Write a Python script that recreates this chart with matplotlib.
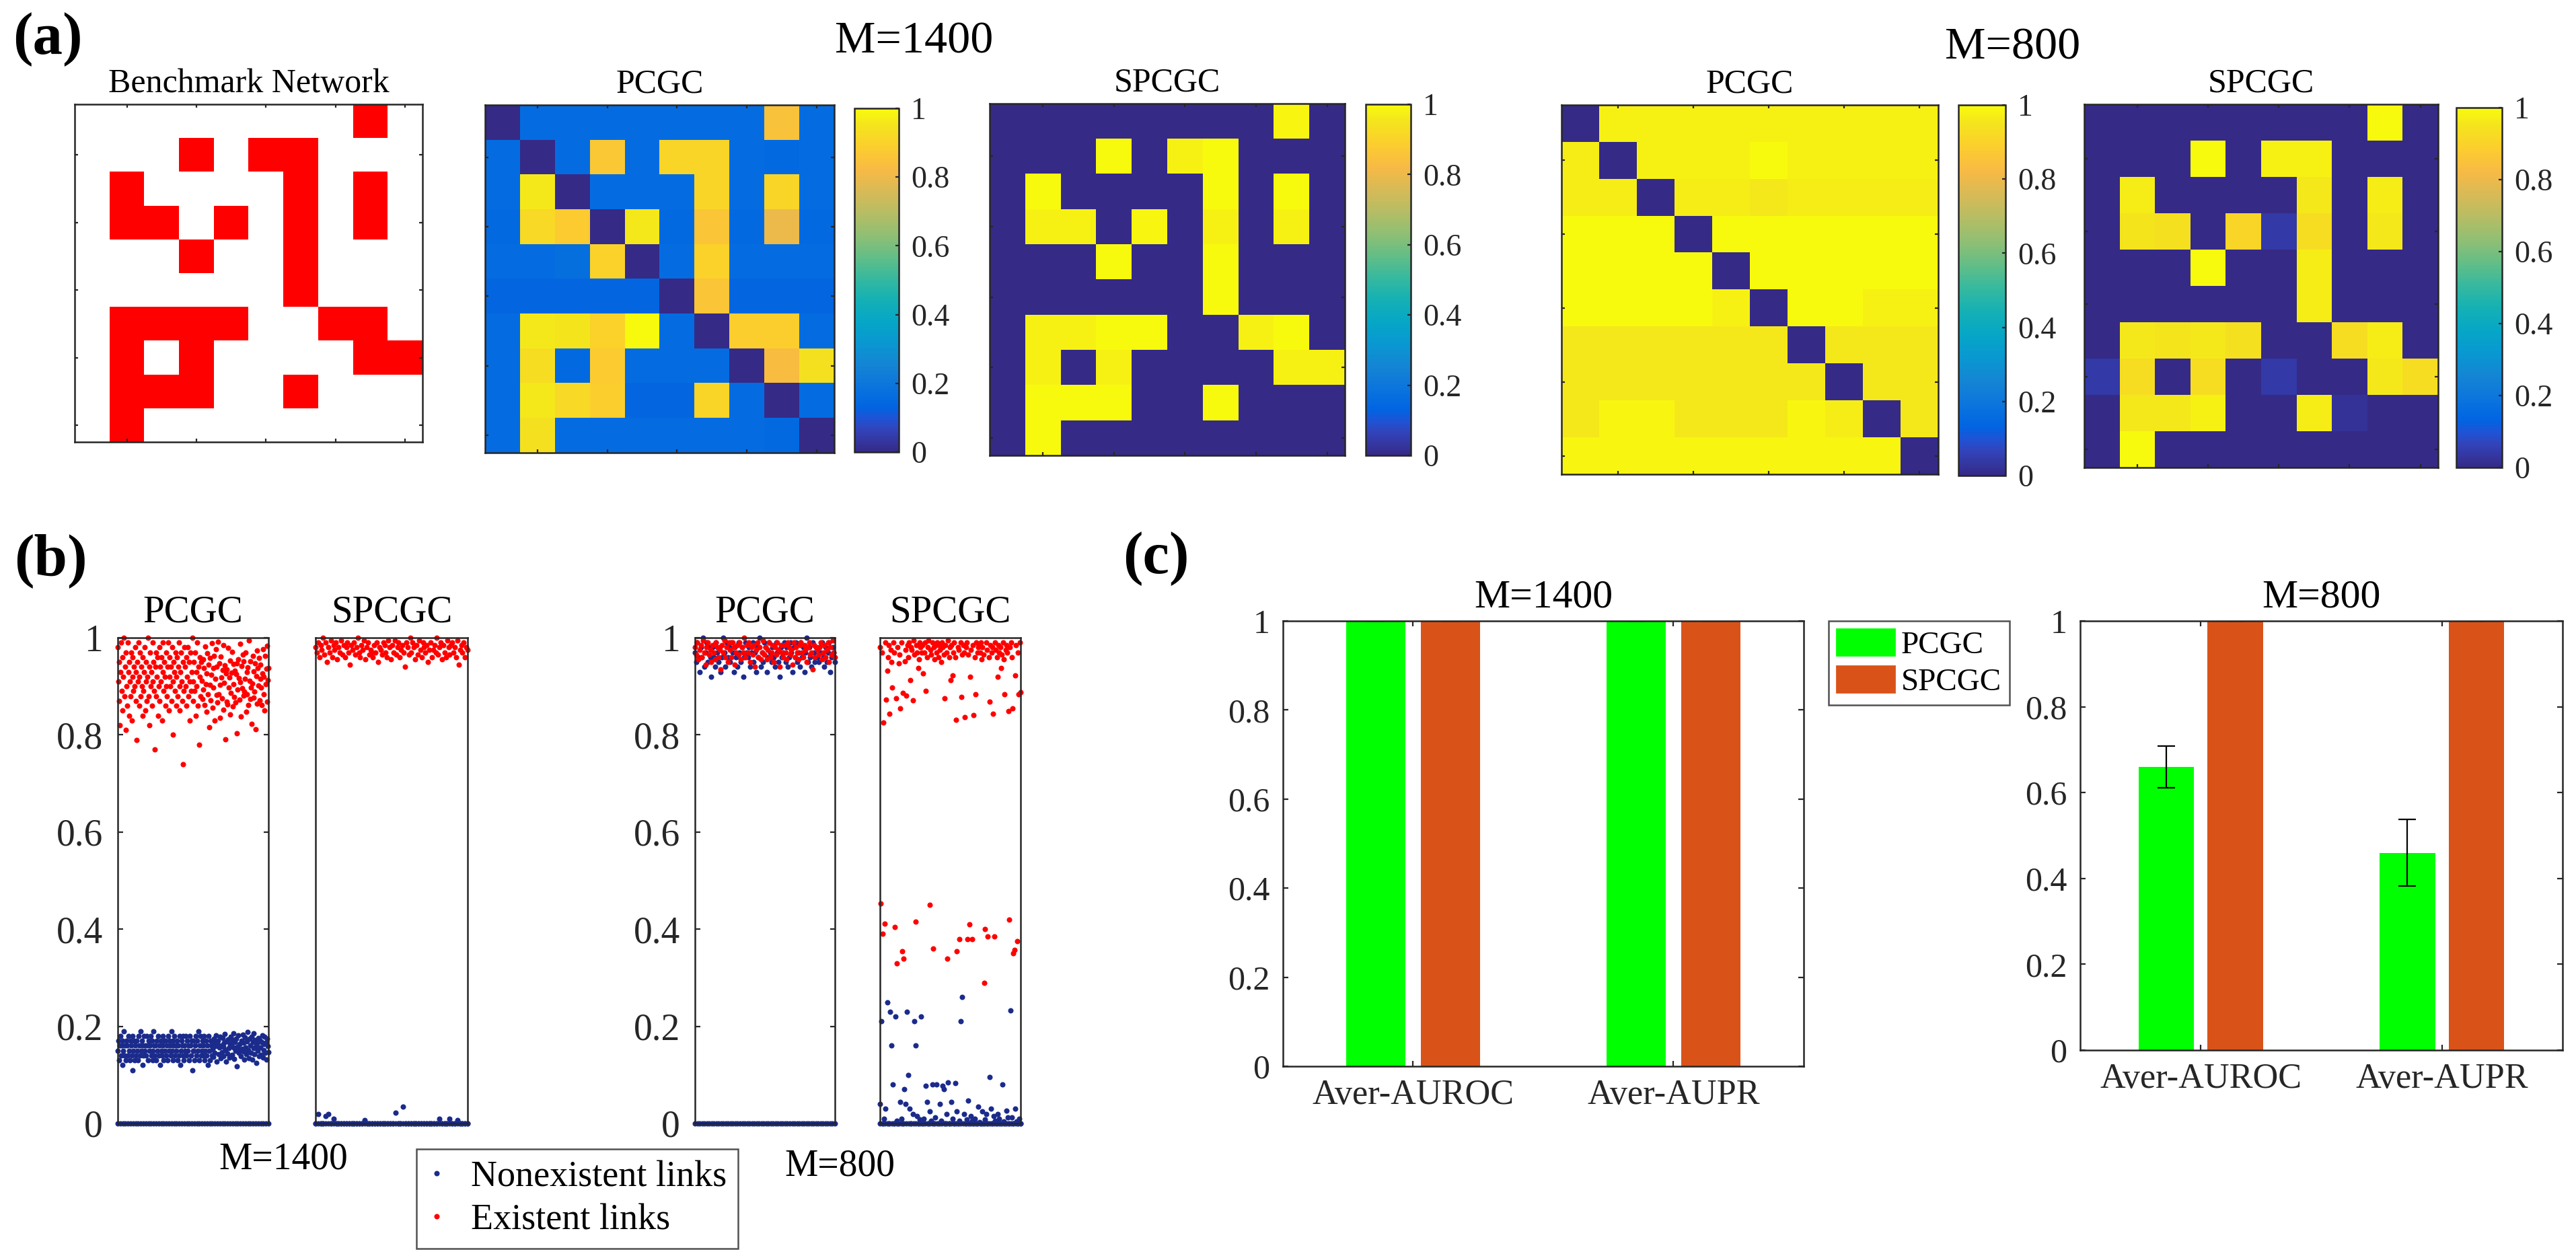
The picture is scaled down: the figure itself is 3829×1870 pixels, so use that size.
"""
Benchmark network vs PCGC / SPCGC reconstructions, link scores and AUROC/AUPR bars
"""
import numpy as np
import matplotlib
matplotlib.use('Agg')
import matplotlib.pyplot as plt
from matplotlib.colors import LinearSegmentedColormap, ListedColormap
from matplotlib.lines import Line2D
from matplotlib.patches import Patch

plt.rcParams['font.family'] = ['Liberation Serif', 'DejaVu Serif']

# ============= DATA =============
benchmark = [
    [0, 0, 0, 0, 0, 0, 0, 0, 1, 0],
    [0, 0, 0, 1, 0, 1, 1, 0, 0, 0],
    [0, 1, 0, 0, 0, 0, 1, 0, 1, 0],
    [0, 1, 1, 0, 1, 0, 1, 0, 1, 0],
    [0, 0, 0, 1, 0, 0, 1, 0, 0, 0],
    [0, 0, 0, 0, 0, 0, 1, 0, 0, 0],
    [0, 1, 1, 1, 1, 0, 0, 1, 1, 0],
    [0, 1, 0, 1, 0, 0, 0, 0, 1, 1],
    [0, 1, 1, 1, 0, 0, 1, 0, 0, 0],
    [0, 1, 0, 0, 0, 0, 0, 0, 0, 0],
]

pcgc_1400 = [
    [0.00, 0.16, 0.16, 0.16, 0.16, 0.16, 0.16, 0.16, 0.85, 0.16],
    [0.16, 0.00, 0.16, 0.87, 0.16, 0.91, 0.91, 0.16, 0.15, 0.16],
    [0.16, 0.96, 0.00, 0.16, 0.16, 0.16, 0.91, 0.16, 0.91, 0.16],
    [0.15, 0.92, 0.88, 0.00, 0.96, 0.15, 0.86, 0.15, 0.80, 0.15],
    [0.16, 0.16, 0.17, 0.90, 0.00, 0.16, 0.90, 0.16, 0.16, 0.16],
    [0.14, 0.14, 0.14, 0.14, 0.14, 0.00, 0.86, 0.14, 0.14, 0.14],
    [0.16, 0.96, 0.95, 0.90, 1.00, 0.16, 0.00, 0.89, 0.89, 0.16],
    [0.16, 0.93, 0.15, 0.88, 0.16, 0.16, 0.16, 0.00, 0.83, 0.94],
    [0.16, 0.96, 0.92, 0.89, 0.14, 0.14, 0.91, 0.16, 0.00, 0.16],
    [0.16, 0.94, 0.16, 0.16, 0.16, 0.16, 0.16, 0.16, 0.15, 0.00],
]

spcgc_1400 = [
    [0, 0, 0, 0, 0, 0, 0, 0, 0.99, 0],
    [0, 0, 0, 1.00, 0, 0.98, 1.00, 0, 0, 0],
    [0, 1.00, 0, 0, 0, 0, 1.00, 0, 1.00, 0],
    [0, 0.98, 0.98, 0, 0.99, 0, 0.98, 0, 0.98, 0],
    [0, 0, 0, 1.00, 0, 0, 1.00, 0, 0, 0],
    [0, 0, 0, 0, 0, 0, 1.00, 0, 0, 0],
    [0, 0.98, 0.98, 1.00, 1.00, 0, 0, 0.98, 1.00, 0],
    [0, 0.98, 0, 0.98, 0, 0, 0, 0, 0.98, 0.98],
    [0, 1.00, 1.00, 1.00, 0, 0, 1.00, 0, 0, 0],
    [0, 1.00, 0, 0, 0, 0, 0, 0, 0, 0],
]

pcgc_800 = [
    [0.00, 0.98, 0.98, 0.98, 0.98, 0.98, 0.98, 0.98, 0.98, 0.98],
    [0.97, 0.00, 0.98, 0.98, 0.98, 1.00, 0.98, 0.98, 0.98, 0.98],
    [0.97, 0.97, 0.00, 0.97, 0.97, 0.96, 0.97, 0.97, 0.97, 0.97],
    [1.00, 1.00, 1.00, 0.00, 1.00, 1.00, 1.00, 1.00, 1.00, 1.00],
    [1.00, 1.00, 1.00, 1.00, 0.00, 1.00, 1.00, 1.00, 1.00, 1.00],
    [1.00, 1.00, 1.00, 1.00, 0.98, 0.00, 1.00, 1.00, 0.98, 0.98],
    [0.96, 0.96, 0.96, 0.96, 0.96, 0.96, 0.00, 0.96, 0.96, 0.96],
    [0.96, 0.96, 0.96, 0.96, 0.96, 0.96, 0.96, 0.00, 0.96, 0.96],
    [0.96, 0.99, 0.99, 0.96, 0.96, 0.96, 0.99, 0.97, 0.00, 0.96],
    [0.99, 0.99, 0.99, 0.99, 0.99, 0.99, 0.99, 0.99, 0.99, 0.00],
]

spcgc_800 = [
    [0, 0, 0, 0, 0, 0, 0, 0, 1.00, 0],
    [0, 0, 0, 1.00, 0, 0.98, 0.98, 0, 0, 0],
    [0, 0.97, 0, 0, 0, 0, 0.96, 0, 0.97, 0],
    [0, 0.95, 0.94, 0, 0.91, 0.04, 0.93, 0, 0.96, 0],
    [0, 0, 0, 1.00, 0, 0, 0.97, 0, 0, 0],
    [0, 0, 0, 0, 0, 0, 0.97, 0, 0, 0],
    [0, 0.96, 0.95, 0.96, 0.94, 0, 0, 0.93, 0.97, 0],
    [0.04, 0.93, 0, 0.93, 0, 0.04, 0, 0, 0.96, 0.93],
    [0, 0.96, 0.96, 0.98, 0, 0, 0.97, 0.02, 0, 0],
    [0, 1.00, 0, 0, 0, 0, 0, 0, 0, 0],
]

# link scores (b): self links (diagonal) are always 0
diag_zero = [0.0] * 60

pcgc1400_exist = [
    0.98, 0.91, 0.87, 0.95, 0.82, 0.93, 0.99, 0.89, 0.96, 0.85, 0.92, 1.00, 0.88, 0.94, 0.81,
    0.97, 0.90, 0.86, 0.99, 0.93, 0.84, 0.95, 0.91, 0.88, 0.97, 0.83, 0.92, 0.96, 0.89, 0.94,
    0.90, 0.98, 0.87, 0.93, 0.79, 0.95, 0.91, 0.99, 0.86, 0.92, 0.97, 0.88, 0.94, 0.90, 0.84,
    0.96, 0.89, 0.93, 0.98, 0.85, 0.91, 0.95, 0.87, 0.92, 1.00, 0.88, 0.94, 0.82, 0.97, 0.90,
    0.93, 0.86, 0.99, 0.91, 0.95, 0.89, 0.77, 0.94, 0.97, 0.88, 0.92, 0.96, 0.84, 0.90, 0.98,
    0.87, 0.94, 0.91, 0.96, 0.83, 0.93, 0.99, 0.89, 0.95, 0.92, 0.86, 0.97, 0.90, 0.88, 0.94,
    0.99, 0.85, 0.92, 0.96, 0.90, 0.94, 0.87, 0.98, 0.91, 0.80, 0.95, 0.93, 0.89, 0.97, 0.86,
    0.92, 0.96, 0.88, 0.94, 0.99, 0.90, 0.85, 0.93, 0.97, 0.91, 0.87, 0.95, 0.74, 0.89, 0.98,
    0.94, 0.90, 0.96, 0.86, 0.92, 0.98, 0.88, 0.95, 0.83, 0.91, 0.97, 0.89, 0.93, 1.00, 0.87,
    0.91, 0.95, 0.89, 0.97, 0.84, 0.93, 0.90, 0.99, 0.86, 0.94, 0.78, 0.92, 0.96, 0.88, 0.95,
    0.912, 0.874, 0.956, 0.893, 0.938, 0.861, 0.982, 0.905, 0.847, 0.927, 0.968, 0.884, 0.945, 0.816, 0.903,
    0.958, 0.871, 0.924, 0.989, 0.856, 0.937, 0.898, 0.963, 0.829, 0.915, 0.976, 0.882, 0.941, 0.867, 0.992,
    0.884, 0.947, 0.903, 0.835, 0.961, 0.918, 0.876, 0.934, 0.985, 0.852, 0.907, 0.943, 0.791, 0.926, 0.868,
    0.935, 0.863, 0.979, 0.897, 0.918, 0.842, 0.953, 0.886, 0.928, 0.971, 0.859, 0.904, 0.946, 0.878, 0.932,
    0.867, 0.925, 0.948, 0.804, 0.893, 0.956, 0.917, 0.873, 0.987, 0.908, 0.838, 0.942, 0.896, 0.965, 0.881,
    0.951, 0.889, 0.916, 0.969, 0.847, 0.929, 0.884, 0.939, 0.862, 0.995, 0.911, 0.874, 0.952, 0.898, 0.823,
    0.906, 0.963, 0.877, 0.931, 0.889, 0.947, 0.812, 0.921, 0.973, 0.864, 0.938, 0.902, 0.958, 0.871, 0.915,
    0.944, 0.898, 0.862, 0.927, 0.976, 0.883, 0.919, 0.851, 0.962, 0.905, 0.936, 0.869, 0.984, 0.913, 0.937,
]
pcgc1400_none = [
    0.15, 0.17, 0.13, 0.16, 0.18, 0.14, 0.16, 0.12, 0.17, 0.15, 0.19, 0.14, 0.16, 0.13, 0.17,
    0.16, 0.14, 0.18, 0.15, 0.13, 0.17, 0.16, 0.14, 0.11, 0.18, 0.15, 0.17, 0.13, 0.16, 0.14,
    0.17, 0.15, 0.13, 0.18, 0.16, 0.14, 0.19, 0.15, 0.17, 0.12, 0.16, 0.14, 0.18, 0.15, 0.16,
    0.14, 0.18, 0.16, 0.13, 0.17, 0.15, 0.16, 0.18, 0.14, 0.17, 0.13, 0.15, 0.19, 0.16, 0.14,
    0.16, 0.13, 0.17, 0.15, 0.18, 0.14, 0.16, 0.12, 0.17, 0.15, 0.14, 0.18, 0.16, 0.13, 0.17,
    0.15, 0.17, 0.14, 0.16, 0.13, 0.18, 0.15, 0.17, 0.16, 0.14, 0.19, 0.15, 0.13, 0.17, 0.16,
    0.18, 0.14, 0.16, 0.15, 0.17, 0.13, 0.16, 0.14, 0.18, 0.12, 0.15, 0.17, 0.16, 0.14, 0.18,
    0.13, 0.16, 0.15, 0.18, 0.14, 0.17, 0.15, 0.16, 0.13, 0.18, 0.16, 0.14, 0.17, 0.11, 0.15,
    0.17, 0.15, 0.13, 0.16, 0.18, 0.14, 0.17, 0.15, 0.19, 0.13, 0.16, 0.18, 0.14, 0.15, 0.17,
    0.14, 0.16, 0.18, 0.13, 0.15, 0.17, 0.14, 0.16, 0.12, 0.18, 0.15, 0.13, 0.17, 0.16, 0.14,
    0.152, 0.168, 0.137, 0.174, 0.146, 0.159, 0.182, 0.128, 0.163, 0.171, 0.143, 0.156, 0.178, 0.134, 0.161,
    0.147, 0.176, 0.158, 0.139, 0.166, 0.184, 0.151, 0.127, 0.169, 0.144, 0.173, 0.155, 0.136, 0.162, 0.179,
    0.165, 0.141, 0.172, 0.157, 0.186, 0.133, 0.167, 0.149, 0.175, 0.118, 0.158, 0.181, 0.145, 0.164, 0.153,
    0.138, 0.171, 0.154, 0.183, 0.148, 0.166, 0.131, 0.177, 0.156, 0.142, 0.169, 0.188, 0.151, 0.135, 0.174,
    0.161, 0.146, 0.179, 0.132, 0.167, 0.155, 0.185, 0.143, 0.172, 0.158, 0.124, 0.165, 0.149, 0.176, 0.139,
    0.172, 0.157, 0.141, 0.168, 0.182, 0.136, 0.163, 0.151, 0.178, 0.145, 0.166, 0.131, 0.174, 0.159, 0.147,
]

spcgc1400_exist = [
    0.98, 0.97, 0.99, 0.96, 0.985, 0.975, 1.00, 0.965, 0.99, 0.95, 0.98, 0.97, 0.995, 0.96, 0.985,
    0.975, 0.99, 0.955, 0.98, 0.97, 0.995, 0.965, 0.985, 0.96, 0.98, 0.99, 0.97, 0.945, 0.985, 0.975,
    0.99, 0.965, 0.98, 1.00, 0.97, 0.96, 0.985, 0.975, 0.995, 0.955, 0.98, 0.99, 0.965, 0.975, 0.97,
    0.96, 0.985, 0.97, 0.99, 0.95, 0.98, 0.975, 0.965, 0.99, 0.985, 0.97, 0.96, 0.995, 0.98, 0.955,
    0.985, 0.97, 0.995, 0.965, 0.98, 0.99, 0.96, 0.975, 0.985, 0.97, 0.94, 0.99, 0.98, 0.965, 1.00,
    0.97, 0.99, 0.98, 0.955, 0.985, 0.965, 0.995, 0.975, 0.96, 0.99, 0.98, 0.97, 0.985, 0.95, 0.975,
    0.99, 0.96, 0.975, 0.985, 0.97, 1.00, 0.965, 0.98, 0.99, 0.955, 0.985, 0.97, 0.96, 0.995, 0.98,
    0.965, 0.985, 0.99, 0.97, 0.98, 0.96, 0.995, 0.945, 0.975, 0.985, 0.97, 0.99, 0.96, 0.98, 0.975,
]
spcgc1400_none = [
    0, 0.02, 0, 0, 0.015, 0.02, 0, 0.01, 0, 0, 0, 0, 0, 0, 0,
    0, 0, 0, 0, 0.007, 0, 0, 0, 0, 0, 0, 0, 0, 0, 0,
    0, 0.022, 0, 0, 0.035, 0, 0, 0, 0, 0, 0, 0, 0, 0, 0,
    0, 0, 0, 0.01, 0, 0, 0, 0.01, 0, 0, 0.007, 0, 0, 0, 0,
]

pcgc800_none = [
    0.97, 0.95, 0.99, 0.96, 0.93, 0.98, 0.96, 1.00, 0.94, 0.97, 0.99, 0.95, 0.98, 0.96, 0.92,
    0.98, 0.96, 0.94, 0.99, 0.97, 0.95, 0.98, 0.93, 0.96, 1.00, 0.97, 0.94, 0.99, 0.96, 0.98,
    0.95, 0.99, 0.97, 0.93, 0.98, 0.96, 0.94, 0.99, 0.97, 0.95, 0.98, 0.92, 0.96, 0.99, 0.97,
    0.96, 0.98, 0.94, 0.97, 0.99, 0.95, 0.97, 0.93, 0.98, 0.96, 1.00, 0.94, 0.97, 0.95, 0.99,
    0.98, 0.93, 0.96, 0.99, 0.97, 0.95, 0.98, 0.96, 0.94, 0.99, 0.97, 0.95, 0.92, 0.98, 0.96,
    0.97, 0.99, 0.95, 0.98, 0.94, 0.96, 0.99, 0.97, 0.93, 0.98, 0.96, 0.99, 0.95, 0.97, 0.94,
    0.99, 0.96, 0.98, 0.93, 0.97, 1.00, 0.95, 0.98, 0.96, 0.94, 0.99, 0.97, 0.95, 0.98, 0.96,
    0.95, 0.98, 0.97, 0.99, 0.96, 0.94, 0.98, 0.95, 0.97, 0.99, 0.93, 0.96, 0.98, 0.97, 0.95,
]
pcgc800_exist = [
    0.98, 0.965, 0.99, 0.955, 0.975, 0.985, 0.96, 0.995, 0.97, 0.945, 0.98, 0.99, 0.965, 0.975, 0.95,
    0.985, 0.97, 0.955, 0.99, 0.98, 0.96, 0.975, 0.935, 0.985, 0.97, 0.995, 0.96, 0.98, 0.95, 0.99,
    0.975, 0.96, 0.99, 0.98, 0.945, 0.97, 0.985, 0.965, 0.99, 0.955, 0.98, 0.97, 1.00, 0.96, 0.985,
    0.97, 0.99, 0.95, 0.98, 0.965, 0.985, 0.94, 0.975, 0.99, 0.96, 0.98, 0.955, 0.97, 0.995, 0.965,
    0.98, 0.955, 0.975, 0.99, 0.96, 0.97, 0.985, 0.95, 0.98, 0.965, 0.99, 0.975, 0.94, 0.985, 0.97,
    0.96, 0.985, 0.97, 0.955, 0.99, 0.98, 0.965, 0.975, 0.945, 0.99, 0.96, 0.98, 0.97, 0.955, 0.985,
    0.99, 0.97, 0.96, 0.985, 0.975, 0.95, 0.98, 0.99, 0.965, 0.97, 0.935, 0.985, 0.96, 0.98, 0.975,
    0.965, 0.98, 0.99, 0.955, 0.97, 0.985, 0.96, 0.975, 0.99, 0.95, 0.98, 0.965, 0.995, 0.97, 0.96,
]

spcgc800_exist = [
    0.98, 0.453, 0.97, 0.39, 0.826, 0.412, 0.99, 0.873, 0.932, 0.96, 0.985, 0.844, 0.975, 0.95, 0.898, 0.99,
    0.97, 0.405, 0.875, 0.33, 0.98, 0.947, 0.965, 0.854, 0.99, 0.355, 0.886, 0.34, 0.952, 0.975, 0.881, 0.985,
    0.96, 0.99, 0.913, 0.98, 0.975, 0.871, 0.995, 0.965, 0.415, 0.985, 0.97, 0.937, 0.955, 0.99, 0.98, 0.97,
    0.985, 0.927, 0.97, 0.99, 0.891, 0.96, 0.98, 0.995, 0.45, 0.975, 0.965, 0.99, 0.36, 0.98, 0.955, 0.985,
    0.97, 0.99, 0.96, 0.985, 0.975, 0.95, 0.99, 0.98, 0.965, 0.876, 0.985, 0.97, 0.34, 0.995, 0.96, 0.98,
    0.913, 0.985, 0.923, 0.97, 0.99, 0.96, 0.831, 0.355, 0.98, 0.975, 0.38, 0.99, 0.878, 0.965, 0.985, 0.97,
    0.837, 0.98, 0.99, 0.38, 0.965, 0.41, 0.92, 0.975, 0.38, 0.985, 0.841, 0.96, 0.883, 0.99, 0.97, 0.98,
    0.985, 0.97, 0.99, 0.955, 0.98, 0.965, 0.29, 0.40, 0.99, 0.975, 0.385, 0.96, 0.868, 0.985, 0.97, 0.98,
    0.844, 0.385, 0.99, 0.975, 0.96, 0.92, 0.985, 0.97, 0.98, 0.937, 0.965, 0.99, 0.955, 0.883, 0.975, 0.985,
    0.97, 0.849, 0.42, 0.98, 0.99, 0.96, 0.854, 0.35, 0.357, 0.923, 0.985, 0.376, 0.97, 0.883, 0.99, 0.888,
]
spcgc800_none = [
    0.04, 0.21, 0, 0.01, 0.03, 0.25, 0, 0.23, 0.16, 0.08,
    0, 0.22, 0.005, 0, 0.045, 0.01, 0, 0.07, 0.04, 0.23,
    0.1, 0.03, 0, 0.02, 0.21, 0.16, 0.015, 0, 0.008, 0.22,
    0, 0.01, 0.078, 0.045, 0, 0.025, 0.005, 0.08, 0, 0.012,
    0.08, 0, 0.04, 0.006, 0.078, 0.07, 0, 0.02, 0.085, 0,
    0.045, 0.01, 0, 0.083, 0.025, 0, 0.005, 0.21, 0.26, 0.02,
    0, 0.008, 0.047, 0, 0.015, 0.005, 0, 0.01, 0, 0.035,
    0.003, 0, 0.025, 0, 0.008, 0.02, 0, 0.095, 0.03, 0,
    0.015, 0.006, 0, 0.02, 0.01, 0, 0.08, 0.004, 0, 0.026,
    0.012, 0, 0.233, 0.013, 0, 0.03, 0.004, 0, 0.01, 0,
]

# bars (c)
metrics = ['Aver-AUROC', 'Aver-AUPR']
bar_pcgc_1400 = [1.0, 1.0]
bar_pcgc_1400_err = [0.0, 0.0]
bar_spcgc_1400 = [1.0, 1.0]
bar_spcgc_1400_err = [0.0, 0.0]
bar_pcgc_800 = [0.66, 0.46]
bar_pcgc_800_err = [0.048, 0.078]
bar_spcgc_800 = [1.0, 1.0]
bar_spcgc_800_err = [0.0, 0.0]

# ============= STYLE =============
W, H = 3830, 1870
DPI = 200
DARK = '#262626'
BLUE = '#1b2b8c'
RED = '#ff0000'
GREEN = '#00ff00'
ORANGE = '#d95319'
SERIF = ['Liberation Serif', 'DejaVu Serif']

# MATLAB parula (sampled)
parula_pts = [
    (0.2081, 0.1663, 0.5292), (0.1959, 0.2645, 0.7279), (0.1253, 0.3242, 0.8303),
    (0.0117, 0.3875, 0.8820), (0.0165, 0.4266, 0.8786), (0.0498, 0.4586, 0.8641),
    (0.0793, 0.5200, 0.8312), (0.0343, 0.5966, 0.8199), (0.0228, 0.6535, 0.7768),
    (0.0843, 0.6928, 0.7062), (0.2178, 0.7250, 0.6193), (0.3953, 0.7459, 0.5244),
    (0.5709, 0.7485, 0.4494), (0.7184, 0.7411, 0.3905), (0.8507, 0.7299, 0.3360),
    (0.9739, 0.7314, 0.2666), (0.9880, 0.8066, 0.1794), (0.9589, 0.8949, 0.1132),
    (0.9763, 0.9831, 0.0538),
]
parula_idx = [0, 4, 6, 8, 10, 12, 16, 20, 24, 28, 32, 36, 40, 44, 48, 52, 56, 60, 63]
parula = LinearSegmentedColormap.from_list(
    'parula', [(i / 63, c) for i, c in zip(parula_idx, parula_pts)])

fig = plt.figure(figsize=(W / DPI, H / DPI), dpi=DPI)


def box(x0, y0, x1, y1):
    """pixel box (left, top, right, bottom) -> figure rect"""
    return [x0 / W, 1 - y1 / H, (x1 - x0) / W, (y1 - y0) / H]


def style_spines(ax):
    for s in ax.spines.values():
        s.set_linewidth(0.9)
        s.set_color(DARK)


def serif_ticks(ax):
    for t in ax.get_xticklabels() + ax.get_yticklabels():
        t.set_family(SERIF)


# ============= (a) MATRICES =============
def draw_matrix(rect, mat, title, cmap):
    ax = fig.add_axes(box(*rect))
    im = ax.imshow(np.array(mat), cmap=cmap, vmin=0, vmax=1, aspect='auto',
                   interpolation='nearest')
    ax.set_xticks([1, 3, 5, 7, 9])
    ax.set_yticks([1, 3, 5, 7, 9])
    ax.set_xticklabels([])
    ax.set_yticklabels([])
    ax.tick_params(direction='in', length=1.8, width=0.8, color=DARK,
                   top=True, right=True)
    style_spines(ax)
    ax.set_title(title, fontsize=18, pad=6.5)
    return im


def draw_cbar(rect, im):
    cax = fig.add_axes(box(*rect))
    cb = fig.colorbar(im, cax=cax, ticks=[0, 0.2, 0.4, 0.6, 0.8, 1])
    cb.ax.set_yticklabels(['0', '0.2', '0.4', '0.6', '0.8', '1'])
    cax.tick_params(direction='in', length=1.8, width=0.8, labelsize=16.5,
                    pad=6.5, colors=DARK)
    serif_ticks(cax)
    cb.outline.set_linewidth(0.9)
    cb.outline.set_edgecolor(DARK)


draw_matrix((111, 155, 628, 657), benchmark, 'Benchmark Network',
            ListedColormap(['white', RED]))
im = draw_matrix((721, 156, 1240, 673), pcgc_1400, 'PCGC', parula)
draw_cbar((1270, 161, 1336, 672), im)
im = draw_matrix((1471, 154, 1999, 677), spcgc_1400, 'SPCGC', parula)
draw_cbar((2030, 155, 2097, 677), im)
im = draw_matrix((2321, 156, 2881, 705), pcgc_800, 'PCGC', parula)
draw_cbar((2911, 156, 2981, 707), im)
im = draw_matrix((3098, 155, 3624, 695), spcgc_800, 'SPCGC', parula)
draw_cbar((3651, 160, 3719, 695), im)

fig.text(1359 / W, 1 - 62 / H, 'M=1400', fontsize=24.5, ha='center', va='center')
fig.text(2992 / W, 1 - 71 / H, 'M=800', fontsize=24.5, ha='center', va='center')


# ============= (b) LINK SCORES =============
def draw_scores(rect, none_vals, exist_vals, title, labels):
    ax = fig.add_axes(box(*rect))
    for vals, col in [(diag_zero, BLUE), (none_vals, BLUE), (exist_vals, RED)]:
        x = np.linspace(0, 1, len(vals))
        ax.plot(x, vals, 'o', ms=2.9, mew=0, color=col, clip_on=False)
    ax.set_xlim(0, 1)
    ax.set_ylim(0, 1)
    ax.set_xticks([])
    if labels:
        ax.set_yticks([0, 0.2, 0.4, 0.6, 0.8, 1])
        ax.set_yticklabels(['0', '0.2', '0.4', '0.6', '0.8', '1'])
        ax.tick_params(direction='in', length=2.7, width=0.8, right=True,
                       labelsize=20, pad=8, colors=DARK)
        serif_ticks(ax)
    else:
        ax.set_yticks([])
    style_spines(ax)
    ax.set_title(title, fontsize=20.5, pad=8.5)


draw_scores((175, 948, 399, 1670), pcgc1400_none, pcgc1400_exist, 'PCGC', True)
draw_scores((469, 948, 695, 1670), spcgc1400_none, spcgc1400_exist, 'SPCGC', False)
draw_scores((1033, 948, 1241, 1670), pcgc800_none, pcgc800_exist, 'PCGC', True)
draw_scores((1308, 948, 1517, 1670), spcgc800_none, spcgc800_exist, 'SPCGC', False)

fig.text(421 / W, 1 - 1723 / H, 'M=1400', fontsize=20, ha='center', va='center')
fig.text(1248 / W, 1 - 1733 / H, 'M=800', fontsize=20, ha='center', va='center')

score_handles = [
    Line2D([], [], marker='o', ls='', ms=2.9, mew=0, color=BLUE, label='Nonexistent links'),
    Line2D([], [], marker='o', ls='', ms=2.9, mew=0, color=RED, label='Existent links'),
]
leg = fig.legend(handles=score_handles, loc='center',
                 bbox_to_anchor=(858 / W, 1 - 1782 / H), fontsize=19.5,
                 frameon=True, fancybox=False, edgecolor=DARK, borderpad=0.3,
                 handlelength=0.5, handletextpad=0.7, labelspacing=0.25)
leg.get_frame().set_linewidth(0.9)


# ============= (c) BARS =============
def draw_bars(rect, a, a_err, b, b_err, title):
    ax = fig.add_axes(box(*rect))
    xs = np.arange(1, len(metrics) + 1)
    w, off = 0.229, 0.143
    ekw = dict(ecolor='black', elinewidth=0.8, capsize=4.7, capthick=0.8)
    ax.bar(xs - off, a, w, color=GREEN, yerr=a_err, error_kw=ekw)
    ax.bar(xs + off, b, w, color=ORANGE, yerr=b_err, error_kw=ekw)
    ax.set_xlim(0.5, 2.5)
    ax.set_ylim(0, 1)
    ax.set_xticks(xs)
    ax.set_xticklabels(metrics, fontsize=18.8)
    ax.set_yticks([0, 0.2, 0.4, 0.6, 0.8, 1])
    ax.set_yticklabels(['0', '0.2', '0.4', '0.6', '0.8', '1'], fontsize=18)
    ax.tick_params(direction='in', length=2.8, width=0.8, top=True, right=True,
                   colors=DARK)
    ax.tick_params(axis='y', pad=7)
    ax.tick_params(axis='x', pad=7)
    serif_ticks(ax)
    style_spines(ax)
    ax.set_title(title, fontsize=21.5, pad=7.5)


draw_bars((1907, 923, 2681, 1585), bar_pcgc_1400, bar_pcgc_1400_err,
          bar_spcgc_1400, bar_spcgc_1400_err, 'M=1400')
draw_bars((3092, 923, 3809, 1561), bar_pcgc_800, bar_pcgc_800_err,
          bar_spcgc_800, bar_spcgc_800_err, 'M=800')

bar_handles = [Patch(color=GREEN, label='PCGC'), Patch(color=ORANGE, label='SPCGC')]
leg2 = fig.legend(handles=bar_handles, loc='upper left',
                  bbox_to_anchor=(2718 / W, 1 - 923 / H), borderaxespad=0,
                  fontsize=17, frameon=True, fancybox=False, edgecolor=DARK,
                  borderpad=0.25, handlelength=1.83, handleheight=0.9,
                  handletextpad=0.2, labelspacing=0.2)
leg2.get_frame().set_linewidth(0.9)

# ============= PANEL LABELS =============
for lab, px, py in [('(a)', 19, 59), ('(b)', 21, 834), ('(c)', 1669, 831)]:
    fig.text(px / W, 1 - py / H, lab, fontsize=32, fontweight='bold',
             family=SERIF, ha='left', va='center')

fig.savefig('out.png', dpi=DPI)
